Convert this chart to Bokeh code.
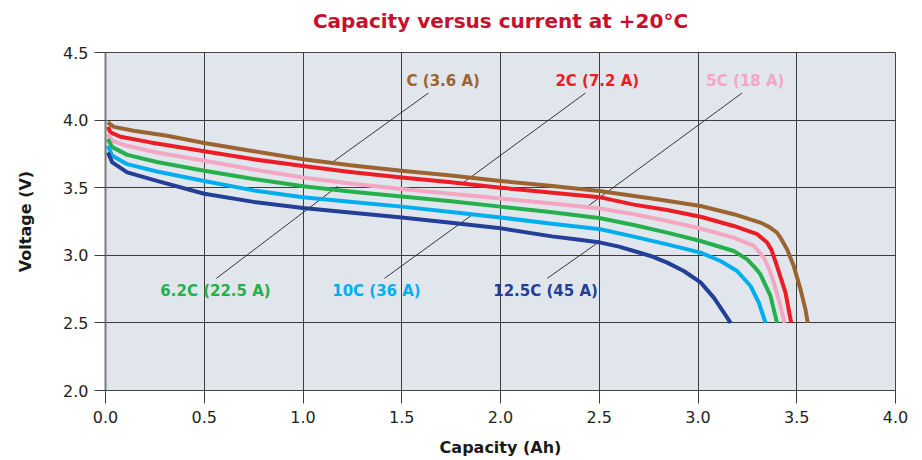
from bokeh.plotting import figure
from bokeh.models import Range1d, FixedTicker, ColumnDataSource, Title, NumeralTickFormatter
from bokeh.core.properties import value
from bokeh.embed import file_html
from bokeh.resources import INLINE

# ---- data ----
series_names = ["C (3.6 A)", "2C (7.2 A)", "5C (18 A)", "6.2C (22.5 A)", "10C (36 A)", "12.5C (45 A)"]
series_colors = ["#9b6431", "#ee1c25", "#f4a6c2", "#25b04b", "#00aeef", "#233f98"]

cap_C = [0.012, 0.042, 0.143, 0.312, 0.5, 0.75, 1.0, 1.25, 1.5, 1.75, 2.0, 2.25, 2.5, 2.793, 3.013, 3.181, 3.316, 3.36, 3.40, 3.42, 3.451, 3.485, 3.519, 3.544, 3.556]
volt_C = [3.983, 3.95, 3.921, 3.884, 3.83, 3.77, 3.71, 3.665, 3.625, 3.59, 3.55, 3.515, 3.476, 3.415, 3.365, 3.304, 3.242, 3.21, 3.168, 3.125, 3.044, 2.92, 2.748, 2.60, 2.5]

cap_2C = [0.012, 0.025, 0.076, 0.228, 0.5, 0.75, 1.0, 1.25, 1.5, 1.75, 2.0, 2.25, 2.5, 2.675, 2.844, 3.013, 3.181, 3.30, 3.35, 3.372, 3.40, 3.443, 3.472]
volt_2C = [3.95, 3.909, 3.877, 3.835, 3.77, 3.71, 3.66, 3.615, 3.575, 3.54, 3.50, 3.465, 3.43, 3.375, 3.335, 3.285, 3.217, 3.156, 3.094, 3.04, 2.92, 2.724, 2.5]

cap_5C = [0.012, 0.034, 0.11, 0.26, 0.5, 0.75, 1.0, 1.25, 1.5, 1.75, 2.0, 2.25, 2.506, 2.675, 2.844, 3.013, 3.181, 3.283, 3.333, 3.36, 3.384, 3.418, 3.438]
volt_5C = [3.896, 3.847, 3.81, 3.76, 3.70, 3.635, 3.575, 3.53, 3.49, 3.455, 3.42, 3.385, 3.346, 3.304, 3.254, 3.198, 3.131, 3.069, 2.983, 2.90, 2.798, 2.624, 2.5]

cap_62C = [0.012, 0.034, 0.11, 0.26, 0.5, 0.75, 1.0, 1.25, 1.5, 1.75, 2.0, 2.25, 2.506, 2.675, 2.844, 3.013, 3.181, 3.249, 3.285, 3.316, 3.367, 3.40]
volt_62C = [3.86, 3.80, 3.743, 3.69, 3.625, 3.565, 3.51, 3.47, 3.435, 3.40, 3.36, 3.32, 3.274, 3.224, 3.168, 3.106, 3.032, 2.97, 2.915, 2.859, 2.70, 2.5]

cap_10C = [0.012, 0.034, 0.11, 0.26, 0.5, 0.75, 1.0, 1.25, 1.5, 1.75, 2.0, 2.25, 2.506, 2.675, 2.844, 3.013, 3.114, 3.198, 3.266, 3.308, 3.342]
volt_10C = [3.81, 3.736, 3.674, 3.62, 3.55, 3.48, 3.43, 3.395, 3.36, 3.32, 3.28, 3.235, 3.193, 3.138, 3.081, 3.02, 2.958, 2.884, 2.773, 2.65, 2.5]

cap_125C = [0.012, 0.034, 0.11, 0.26, 0.5, 0.75, 1.0, 1.25, 1.5, 1.75, 2.0, 2.26, 2.38, 2.506, 2.6, 2.675, 2.76, 2.844, 2.928, 3.013, 3.08, 3.131, 3.165]
volt_125C = [3.76, 3.687, 3.613, 3.55, 3.455, 3.395, 3.35, 3.315, 3.28, 3.24, 3.20, 3.14, 3.118, 3.094, 3.064, 3.032, 2.995, 2.946, 2.884, 2.80, 2.687, 2.576, 2.5]

series_x = [cap_C, cap_2C, cap_5C, cap_62C, cap_10C, cap_125C]
series_y = [volt_C, volt_2C, volt_5C, volt_62C, volt_10C, volt_125C]

# label positions (data coords) and leader lines
label_x = [1.71, 2.49, 3.24, 0.557, 1.372, 2.228]
label_y = [4.29, 4.29, 4.29, 2.735, 2.735, 2.735]
lead_x0 = [1.635, 2.43, 3.223, 0.562, 1.413, 2.237]
lead_y0 = [4.20, 4.20, 4.20, 2.83, 2.83, 2.83]
lead_x1 = [1.155, 1.814, 2.444, 1.175, 1.857, 2.49]
lead_y1 = [3.695, 3.54, 3.365, 3.51, 3.30, 3.09]

x_ticks = [0.0, 0.5, 1.0, 1.5, 2.0, 2.5, 3.0, 3.5, 4.0]
y_ticks = [2.0, 2.5, 3.0, 3.5, 4.0, 4.5]

title_text = "Capacity versus current at +20°C"
x_label = "Capacity (Ah)"
y_label = "Voltage (V)"

FONT = "DejaVu Sans"

p = figure(width=922, height=460, x_range=Range1d(0, 4), y_range=Range1d(2, 4.5),
           output_backend="svg", toolbar_location=None, title=None,
           min_border_left=105, min_border_right=27, min_border_top=52, min_border_bottom=70,
           background_fill_color="#e1e6ed", border_fill_color="white")

# spacer between frame and title, then the title itself (outermost)
spacer = Title(text=" ", text_font_size="10px", standoff=7)
p.add_layout(spacer, "above")
main_title = Title(text=title_text, align="center", standoff=0, text_color="#c8102e",
                   text_font=FONT, text_font_style="bold", text_font_size="20px")
p.add_layout(main_title, "above")

p.outline_line_color = "#444444"
p.outline_line_width = 1

for ax in (p.xaxis[0], p.yaxis[0]):
    ax.axis_line_color = None
    ax.major_tick_line_color = "#3c3c3c"
    ax.major_tick_in = 0
    ax.minor_tick_line_color = None
    ax.major_label_text_font = FONT
    ax.major_label_text_font_size = "16px"
    ax.major_label_text_color = "#231f20"
    ax.axis_label_text_font = FONT
    ax.axis_label_text_font_style = "bold"
    ax.axis_label_text_font_size = "16px"
    ax.axis_label_text_color = "#1a1a1a"

# the left edge of the frame is a lighter, heavier line
p.yaxis.axis_line_color = "#7a7a7a"
p.yaxis.axis_line_width = 2

p.xaxis.ticker = FixedTicker(ticks=x_ticks)
p.yaxis.ticker = FixedTicker(ticks=y_ticks)
p.xaxis.formatter = NumeralTickFormatter(format="0.0")
p.yaxis.formatter = NumeralTickFormatter(format="0.0")
p.xaxis.major_tick_out = 13
p.yaxis.major_tick_out = 11
p.xaxis.major_label_standoff = 7
p.yaxis.major_label_standoff = 6
p.xaxis.axis_label = x_label
p.yaxis.axis_label = y_label
p.xaxis.axis_label_standoff = 12
p.yaxis.axis_label_standoff = 25

p.xgrid.ticker = FixedTicker(ticks=x_ticks)
p.ygrid.ticker = FixedTicker(ticks=y_ticks)
for g in (p.xgrid[0], p.ygrid[0]):
    g.grid_line_color = "#3c3c3c"
    g.grid_line_width = 1
    g.grid_line_alpha = 1.0

# leader lines
p.segment(x0=lead_x0, y0=lead_y0, x1=lead_x1, y1=lead_y1, line_color="#222222", line_width=0.9)

# curves
for xs, ys, c in zip(series_x, series_y, series_colors):
    p.line(xs, ys, line_color=c, line_width=4, line_join="round", line_cap="butt")

src = ColumnDataSource(dict(x=label_x, y=label_y, t=series_names, c=series_colors))
p.text(x="x", y="y", text="t", text_color="c", source=src, text_align="center",
       text_baseline="middle", text_font=value(FONT), text_font_style="bold",
       text_font_size="15px")

open("out.html", "w").write(file_html(p, INLINE))
